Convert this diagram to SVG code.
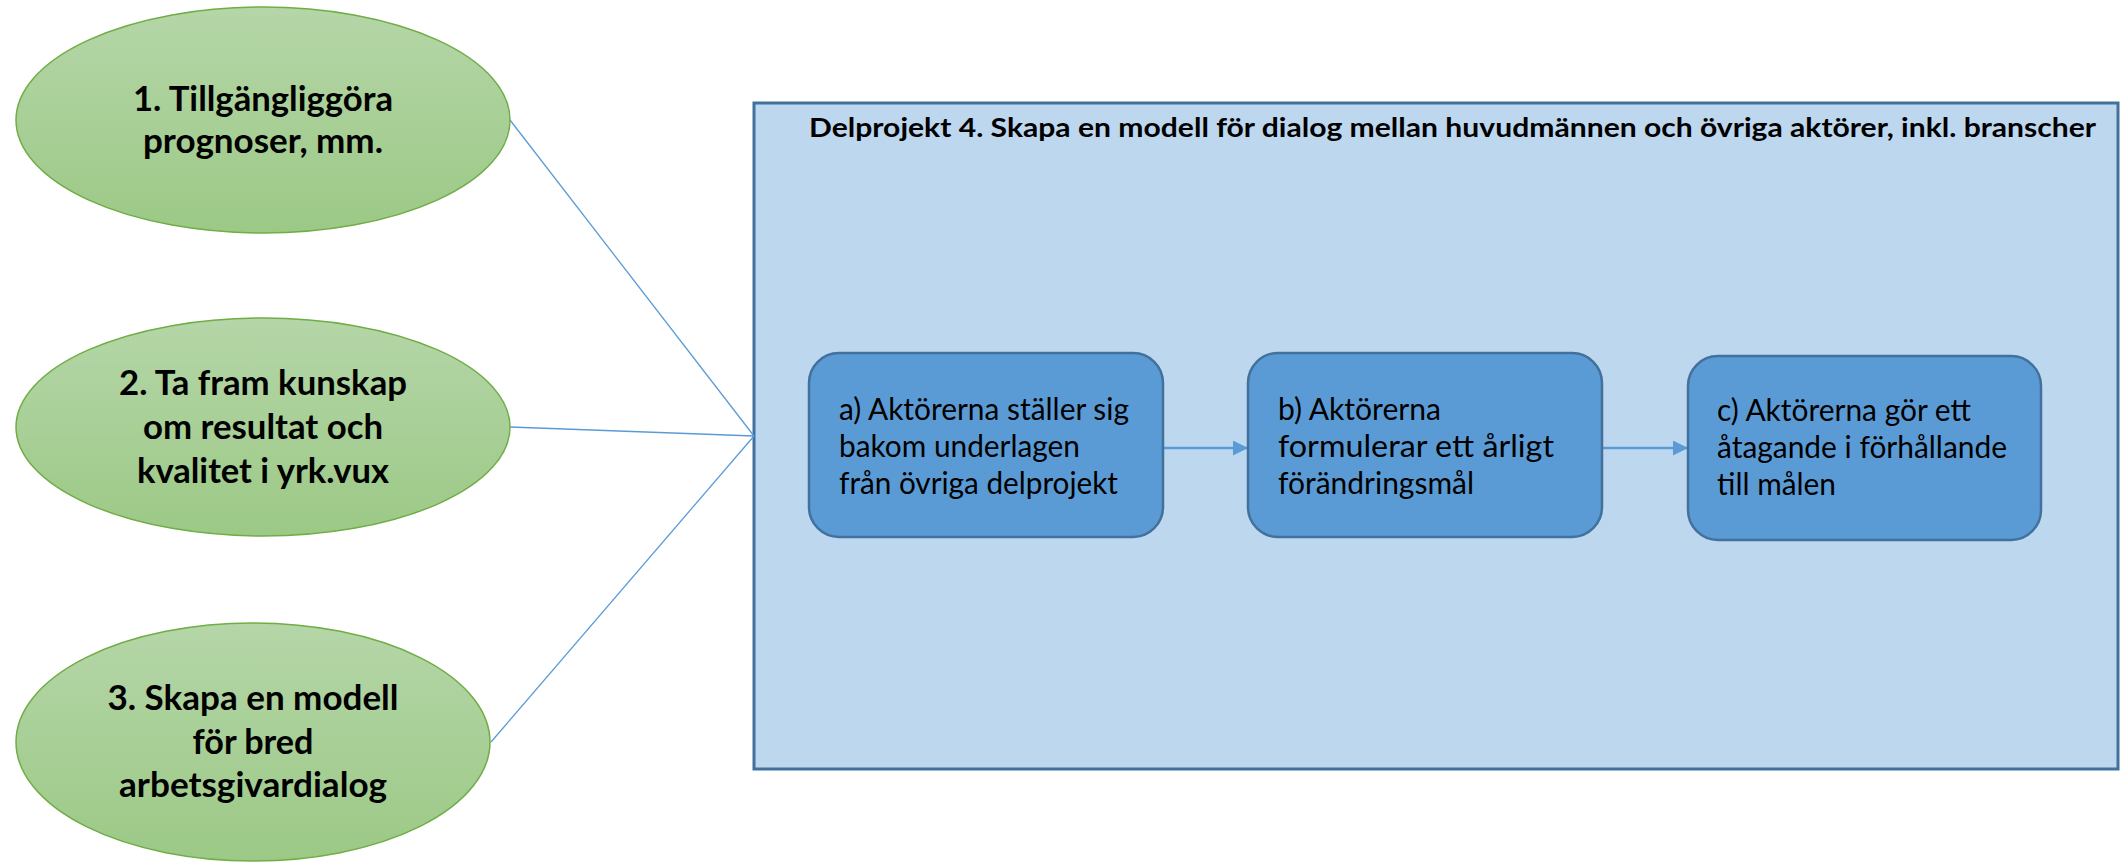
<svg xmlns="http://www.w3.org/2000/svg" width="2121" height="862" viewBox="0 0 2121 862">
  <defs>
    <linearGradient id="green" x1="0" y1="0" x2="0" y2="1">
      <stop offset="0" stop-color="#b5d6a8"/>
      <stop offset="1" stop-color="#9cc986"/>
    </linearGradient>
    <marker id="arrow" viewBox="0 0 10 10" refX="10" refY="5" markerUnits="userSpaceOnUse" markerWidth="16" markerHeight="15" orient="auto">
      <path d="M0,0 L10,5 L0,10 Z" fill="#5b9bd5"/>
    </marker>
  </defs>
  <style>
    .ell { fill: url(#green); stroke: #70ad47; stroke-width: 1.5; }
    .etxt { font-family: Lato, "Liberation Sans", sans-serif; font-weight: bold; font-size: 35px; fill: #000; text-anchor: middle; }
    .frame { fill: #bdd7ee; stroke: #41719c; stroke-width: 3; }
    .title { font-family: Lato, "Liberation Sans", sans-serif; font-weight: bold; font-size: 27.5px; fill: #000; }
    .box { fill: #5b9bd5; stroke: #41719c; stroke-width: 2.5; }
    .btxt { font-family: Lato, "Liberation Sans", sans-serif; font-size: 30px; fill: #000; }
    .conn { stroke: #5b9bd5; stroke-width: 1.3; fill: none; }
    .flow { stroke: #5b9bd5; stroke-width: 2.5; fill: none; }
  </style>
  <rect width="2121" height="862" fill="#ffffff"/>

  <g id="delprojekt4">
    <rect class="frame" x="754" y="103" width="1364" height="666"/>
    <text class="title" x="809" y="137" textLength="1287" lengthAdjust="spacingAndGlyphs">Delprojekt 4. Skapa en modell för dialog mellan huvudmännen och övriga aktörer, inkl. branscher</text>
  </g>

  <g id="connectors">
    <line class="conn" x1="510" y1="120" x2="754" y2="436"/>
    <line class="conn" x1="510" y1="427" x2="754" y2="436"/>
    <line class="conn" x1="491" y1="742" x2="754" y2="436"/>
    <line class="flow" x1="1163" y1="448" x2="1248" y2="448" marker-end="url(#arrow)"/>
    <line class="flow" x1="1602" y1="448" x2="1688" y2="448" marker-end="url(#arrow)"/>
  </g>

  <g id="node1">
    <ellipse class="ell" cx="263" cy="120" rx="247" ry="113"/>
    <text class="etxt" x="263" y="111" textLength="260" lengthAdjust="spacingAndGlyphs">1. Tillgängliggöra</text>
    <text class="etxt" x="263" y="153" textLength="240" lengthAdjust="spacingAndGlyphs">prognoser, mm.</text>
  </g>

  <g id="node2">
    <ellipse class="ell" cx="263" cy="427" rx="247" ry="109"/>
    <text class="etxt" x="263" y="395" textLength="288" lengthAdjust="spacingAndGlyphs">2. Ta fram kunskap</text>
    <text class="etxt" x="263" y="439" textLength="240" lengthAdjust="spacingAndGlyphs">om resultat och</text>
    <text class="etxt" x="263" y="483" textLength="252" lengthAdjust="spacingAndGlyphs">kvalitet i yrk.vux</text>
  </g>

  <g id="node3">
    <ellipse class="ell" cx="253" cy="742" rx="237" ry="119"/>
    <text class="etxt" x="253" y="710" textLength="291" lengthAdjust="spacingAndGlyphs">3. Skapa en modell</text>
    <text class="etxt" x="253" y="754" textLength="121" lengthAdjust="spacingAndGlyphs">för bred</text>
    <text class="etxt" x="253" y="797" textLength="268" lengthAdjust="spacingAndGlyphs">arbetsgivardialog</text>
  </g>

  <g id="stepA">
    <rect class="box" x="809" y="353" width="354" height="184" rx="30" ry="30"/>
    <text class="btxt" x="839" y="420" textLength="290" lengthAdjust="spacingAndGlyphs">a) Aktörerna ställer sig</text>
    <text class="btxt" x="839" y="457" textLength="241" lengthAdjust="spacingAndGlyphs">bakom underlagen</text>
    <text class="btxt" x="839" y="494" textLength="279" lengthAdjust="spacingAndGlyphs">från övriga delprojekt</text>
  </g>

  <g id="stepB">
    <rect class="box" x="1248" y="353" width="354" height="184" rx="30" ry="30"/>
    <text class="btxt" x="1278" y="420" textLength="163" lengthAdjust="spacingAndGlyphs">b) Aktörerna</text>
    <text class="btxt" x="1278" y="457" textLength="276" lengthAdjust="spacingAndGlyphs">formulerar ett årligt</text>
    <text class="btxt" x="1278" y="494" textLength="196" lengthAdjust="spacingAndGlyphs">förändringsmål</text>
  </g>

  <g id="stepC">
    <rect class="box" x="1688" y="356" width="353" height="184" rx="30" ry="30"/>
    <text class="btxt" x="1717" y="421" textLength="254" lengthAdjust="spacingAndGlyphs">c) Aktörerna gör ett</text>
    <text class="btxt" x="1717" y="458" textLength="290" lengthAdjust="spacingAndGlyphs">åtagande i förhållande</text>
    <text class="btxt" x="1717" y="495" textLength="119" lengthAdjust="spacingAndGlyphs">till målen</text>
  </g>
</svg>
